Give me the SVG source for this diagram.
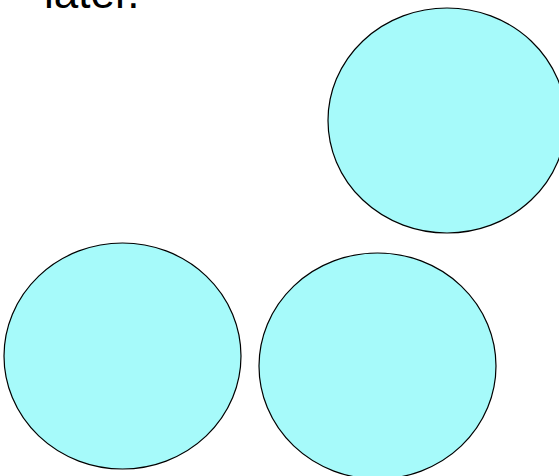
<svg xmlns="http://www.w3.org/2000/svg" width="559" height="476" viewBox="0 0 559 476">
<style>
.node{fill:#A6FAFA;stroke:#000000;stroke-width:1.2}
.lbl{font-family:"Liberation Sans",Arial,sans-serif;font-size:44px;fill:#000000}
</style>
<rect width="559" height="476" fill="#ffffff"/>
<text class="lbl" x="44" y="8">later.</text>
<g id="connectors"></g>
<g id="node-top"><ellipse class="node" cx="447" cy="120.5" rx="119" ry="112.5"/></g>
<g id="node-left"><ellipse class="node" cx="122.5" cy="356" rx="118.5" ry="113"/></g>
<g id="node-right"><ellipse class="node" cx="377.5" cy="366" rx="118.5" ry="113"/></g>
</svg>
